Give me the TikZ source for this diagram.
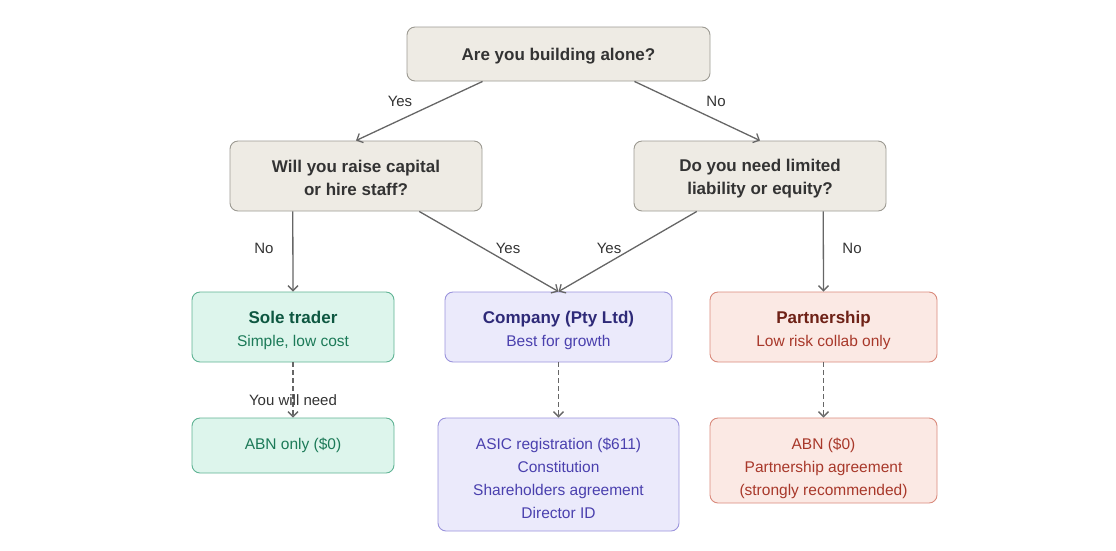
\documentclass[tikz,border=0pt]{standalone}
\usepackage{fontspec}
\setmainfont{Liberation Sans}
\usetikzlibrary{arrows.meta,calc}
\definecolor{qfill}{HTML}{EEEBE4}
\definecolor{qdraw}{HTML}{9C9A92}
\definecolor{qtext}{HTML}{333333}
\definecolor{gfill}{HTML}{DDF5EC}
\definecolor{gdraw}{HTML}{5FB394}
\definecolor{gtitle}{HTML}{0E5741}
\definecolor{gsub}{HTML}{1C7A58}
\definecolor{pfill}{HTML}{EBEAFB}
\definecolor{pdraw}{HTML}{9B94DC}
\definecolor{ptitle}{HTML}{2E2A78}
\definecolor{psub}{HTML}{4A40AE}
\definecolor{rfill}{HTML}{FBE9E4}
\definecolor{rdraw}{HTML}{D98A7C}
\definecolor{rtitle}{HTML}{6E2116}
\definecolor{rsub}{HTML}{A8382A}
\definecolor{edgec}{HTML}{666666}
\tikzset{
  x=1pt,y=-1pt,
  box/.style={rounded corners=8pt, line width=0.9pt, align=center, inner sep=0pt,
    font=\fontsize{15.5}{23}\selectfont},
  qbox/.style={box, fill=qfill, draw=qdraw, text=qtext, font=\fontsize{17}{23}\selectfont\bfseries},
  gbox/.style={box, fill=gfill, draw=gdraw, text=gsub},
  pbox/.style={box, fill=pfill, draw=pdraw, text=psub},
  rbox/.style={box, fill=rfill, draw=rdraw, text=rsub},
  conn/.style={draw=edgec, line width=1.3pt, -{Straight Barb[length=5pt,width=10pt,line width=1.3pt]}},
  dconn/.style={conn, dash pattern=on 5pt off 3pt},
  lbl/.style={text=qtext, font=\fontsize{15}{17}\selectfont, inner sep=1pt},
}
\newcommand{\ttl}[2]{{\color{#1}\bfseries\fontsize{17}{23}\selectfont #2}}
\newcommand{\tst}[1]{\rule{0pt}{#1}}
\begin{document}
\begin{tikzpicture}
\useasboundingbox (0,0) rectangle (1116,550);
\node[qbox, minimum width=303pt, minimum height=54pt] (top) at (558.5,54) {\tst{17pt}Are you building alone?};
\node[qbox, minimum width=252pt, minimum height=70pt] (lq) at (356,176) {\tst{17pt}Will you raise capital\\or hire staff?};
\node[qbox, minimum width=252pt, minimum height=70pt] (rq) at (760,176) {\tst{17pt}Do you need limited\\liability or equity?};
\node[gbox, minimum width=202pt, minimum height=70pt] (sole) at (293,327) {\tst{19pt}\ttl{gtitle}{Sole trader}\\Simple, low cost};
\node[pbox, minimum width=227pt, minimum height=70pt] (comp) at (558.5,327) {\tst{19pt}\ttl{ptitle}{Company (Pty Ltd)}\\Best for growth};
\node[rbox, minimum width=227pt, minimum height=70pt] (part) at (823.5,327) {\tst{19pt}\ttl{rtitle}{Partnership}\\Low risk collab only};
\node[gbox, minimum width=202pt, minimum height=55pt] (abn) at (293,445.5) {ABN only (\$0)};
\node[pbox, minimum width=241pt, minimum height=113pt] (asic) at (558.5,474.5) {\tst{19pt}ASIC registration (\$611)\\Constitution\\Shareholders agreement\\Director ID};
\node[rbox, minimum width=227pt, minimum height=85pt] (pabn) at (823.5,460.5) {\tst{27pt}ABN (\$0)\\Partnership agreement\\(strongly recommended)};

\draw[conn] ($(top.south west)!0.25!(top.south east)$) -- (lq.north);
\draw[conn] ($(top.south west)!0.75!(top.south east)$) -- (rq.north);
\draw[conn] ($(lq.south west)!0.25!(lq.south east)$) -- (sole.north);
\draw[conn] ($(lq.south west)!0.75!(lq.south east)$) -- (comp.north);
\draw[conn] ($(rq.south west)!0.25!(rq.south east)$) -- (comp.north);
\draw[conn] ($(rq.south west)!0.75!(rq.south east)$) -- (part.north);
\draw[dconn] (sole.south) -- (abn.north);
\draw[dconn] (comp.south) -- (asic.north);
\draw[dconn] (part.south) -- (pabn.north);

\node[lbl] (l1) at (400,101) {Yes};
\node[lbl] (l2) at (716,101) {No};
\node[lbl] (l3) at (264,248) {No};
\node[lbl] (l4) at (508,248) {Yes};
\node[lbl] (l5) at (609,248) {Yes};
\node[lbl] (l6) at (852,248) {No};
\node[lbl] (l7) at (293,400) {You will need};
\end{tikzpicture}
\end{document}
